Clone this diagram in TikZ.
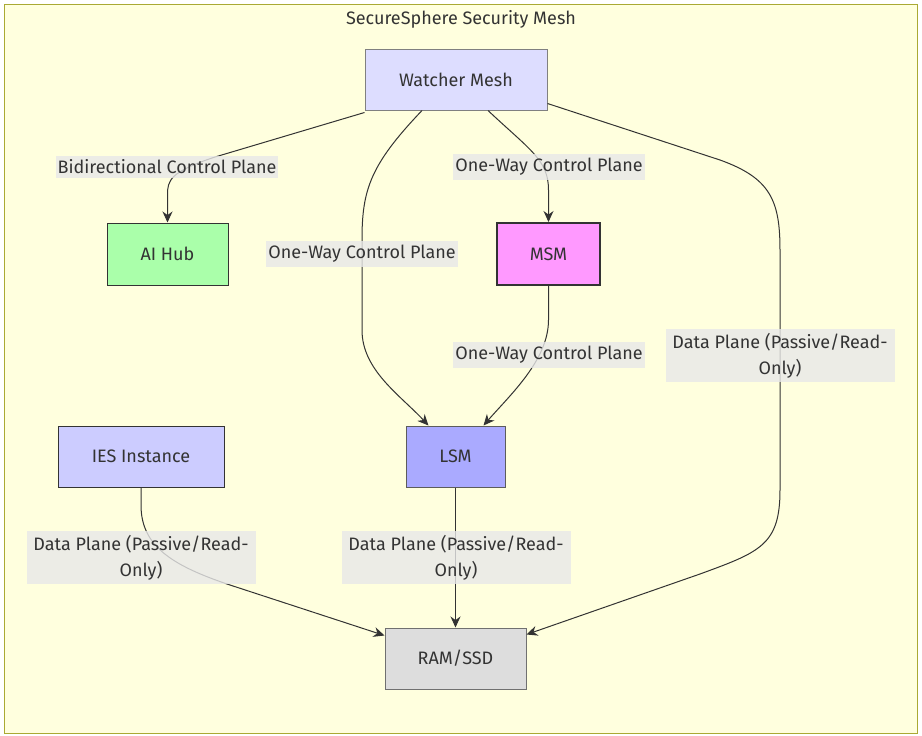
\documentclass[tikz,border=0pt]{standalone}
\usepackage{fontspec}
\setmainfont{Fira Sans}
\usetikzlibrary{arrows.meta}
\definecolor{meshbg}{HTML}{FFFFDE}
\definecolor{meshline}{HTML}{AAAA33}
\definecolor{ink}{HTML}{333333}
\definecolor{watchfill}{HTML}{DDDDFF}
\definecolor{hubfill}{HTML}{AAFFAA}
\definecolor{msmfill}{HTML}{FF99FF}
\definecolor{iesfill}{HTML}{CCCCFF}
\definecolor{lsmfill}{HTML}{AAAAFF}
\definecolor{ramfill}{HTML}{DDDDDD}
\definecolor{labelbg}{HTML}{E8E8E8}
\tikzset{
  box/.style={draw=ink, line width=1pt, text=ink, inner sep=0pt,
    font=\fontsize{18}{20}\selectfont},
  flow/.style={draw=ink, line width=1pt, -{Stealth[length=11pt,width=10pt]}},
  edgelabel/.style={fill=labelbg, fill opacity=0.8, text opacity=1, text=ink,
    inner xsep=2pt, inner ysep=4pt, align=center,
    font=\fontsize{18}{26}\selectfont},
  datalabel/.style={edgelabel, minimum width=229pt}
}
\begin{document}
\begin{tikzpicture}[x=1pt, y=-1pt]
  % frame of the mesh
  \useasboundingbox (0,0) rectangle (922,736);
  \draw[meshline, fill=meshbg, line width=1pt] (4,4) rectangle (917,733);
  \node[text=ink, font=\fontsize{18}{20}\selectfont] (title) at (461,19) {SecureSphere Security Mesh};

  % components
  \node[box, fill=watchfill, draw=gray, minimum width=182pt, minimum height=61pt] (watch) at (456,79.5) {Watcher Mesh};
  \node[box, fill=hubfill, minimum width=121pt, minimum height=62pt] (hub) at (167.5,254) {AI Hub};
  \node[box, fill=msmfill, line width=2pt, minimum width=103pt, minimum height=62pt] (msm) at (548.5,254) {MSM};
  \node[box, fill=iesfill, minimum width=166pt, minimum height=61pt] (ies) at (141,456.5) {IES Instance};
  \node[box, fill=lsmfill, draw=ink!80, minimum width=99pt, minimum height=61pt] (lsm) at (455.5,456.5) {LSM};
  \node[box, fill=ramfill, draw=ink!70, minimum width=141pt, minimum height=61pt] (ram) at (455.5,658.5) {RAM/SSD};

  % control plane
  \draw[flow] ([xshift=0pt,yshift=-2pt]watch.south west) -- (215,157)
    .. controls (170,172) and (167.5,180) .. (167.5,195) -- (hub.north);
  \draw[flow] ([xshift=-34pt]watch.south) .. controls (370,165) and (362,190) .. (362,240)
    -- (362,330) .. controls (362,370) and (400,395) .. ([xshift=-27pt]lsm.north);
  \draw[flow] ([xshift=32pt]watch.south) .. controls (530,150) and (548.5,160) .. (548.5,190)
    -- (msm.north);
  \draw[flow] (msm.south) -- (548.5,320) .. controls (548.5,360) and (510,395) .. ([xshift=28pt]lsm.north);

  % data plane
  \draw[flow] ([yshift=7pt]watch.south east) -- (720,160) .. controls (770,178) and (780,200) .. (780,250)
    -- (780,490) .. controls (780,545) and (760,552) .. (700,574) -- ([yshift=-7pt]ram.north east);
  \draw[flow] (ies.south) -- (141,505) .. controls (141,545) and (170,565) .. (230,585)
    -- ([yshift=-8pt]ram.north west);
  \draw[flow] (lsm.south) -- (ram.north);

  % edge labels
  \node[edgelabel] (bidir) at (167,167) {Bidirectional Control Plane};
  \node[edgelabel] (toMsm) at (549,167) {One-Way Control Plane};
  \node[edgelabel] (toLsm) at (362,254) {One-Way Control Plane};
  \node[edgelabel] (msmLsm) at (549,355) {One-Way Control Plane};
  \node[datalabel] (dataWatch) at (780,355.5) {Data Plane (Passive/Read-\\Only)};
  \node[datalabel] (dataIes) at (141,557.5) {Data Plane (Passive/Read-\\Only)};
  \node[datalabel] (dataLsm) at (456,557.5) {Data Plane (Passive/Read-\\Only)};
\end{tikzpicture}
\end{document}
